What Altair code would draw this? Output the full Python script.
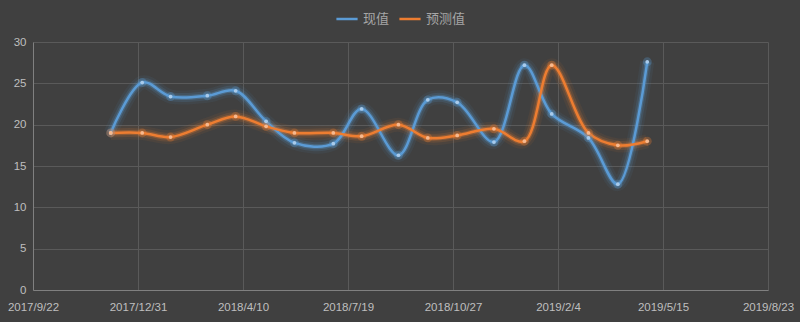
import altair as alt
import pandas as pd

dates = ["2017-12-05", "2018-01-04", "2018-01-31", "2018-03-07", "2018-04-03", "2018-05-02",
         "2018-05-29", "2018-07-05", "2018-08-01", "2018-09-05", "2018-10-03", "2018-10-31",
         "2018-12-05", "2019-01-03", "2019-01-29", "2019-03-05", "2019-04-02", "2019-04-30"]
actual = [19.0, 25.1, 23.4, 23.5, 24.1, 20.4, 17.8, 17.7, 21.9, 16.3, 23.0, 22.7,
          17.9, 27.2, 21.3, 18.4, 12.8, 27.6]
forecast = [19.0, 19.0, 18.5, 20.0, 21.0, 19.8, 19.0, 19.0, 18.6, 20.0, 18.4, 18.7,
            19.5, 18.0, 27.2, 19.0, 17.5, 18.0]
series_names = ["现值", "预测值"]
series_colors = ["#5B9BD5", "#ED7D31"]
point_colors = ["#A9CBEB", "#F6B98F"]
tick_dates = [(2017, 9, 22), (2017, 12, 31), (2018, 4, 10), (2018, 7, 19),
              (2018, 10, 27), (2019, 2, 4), (2019, 5, 15), (2019, 8, 23)]
y_ticks = [0, 5, 10, 15, 20, 25, 30]

rows = []
for d, a, f in zip(dates, actual, forecast):
    rows.append({"date": d, "value": a, "series": series_names[0]})
    rows.append({"date": d, "value": f, "series": series_names[1]})
df = pd.DataFrame(rows)

tick_vals = [alt.DateTime(year=y, month=m, date=d, utc=True) for (y, m, d) in tick_dates]

x_enc = alt.X("date:T",
              scale=alt.Scale(type="utc", domain=[tick_vals[0], tick_vals[-1]], nice=False),
              axis=alt.Axis(values=tick_vals,
                            labelExpr="utcFormat(datum.value, '%Y/%-m/%-d')",
                            title=None, labelColor="#BFBFBF", labelFontSize=11.5,
                            labelFont="Liberation Sans", gridColor="#5A5A5A",
                            domainColor="#808080", ticks=False, labelPadding=11,
                            labelFlush=False, labelOverlap=False))
y_enc = alt.Y("value:Q",
              scale=alt.Scale(domain=[0, 30], nice=False),
              axis=alt.Axis(values=y_ticks, title=None, labelColor="#BFBFBF",
                            labelFontSize=11.5, labelFont="Liberation Sans",
                            gridColor="#5A5A5A", domainColor="#808080", ticks=False,
                            labelPadding=7))
color_enc = alt.Color("series:N",
                      scale=alt.Scale(domain=series_names, range=series_colors),
                      sort=series_names,
                      legend=alt.Legend(title=None, orient="none", direction="horizontal",
                                        legendX=302, legendY=-35,
                                        symbolType="stroke", symbolStrokeWidth=2.5,
                                        symbolSize=450, labelColor="#A6A6A6",
                                        labelFontSize=13, labelFont="Noto Sans CJK SC",
                                        columnPadding=4, labelOffset=4))

def plain_color(rng):
    return alt.Color("series:N", scale=alt.Scale(domain=series_names, range=rng), legend=None)

base = alt.Chart(df)
glow0 = base.mark_line(interpolate="catmull-rom", strokeWidth=14, opacity=0.07).encode(
    x=x_enc, y=y_enc, color=plain_color(series_colors))
glow1 = base.mark_line(interpolate="catmull-rom", strokeWidth=9, opacity=0.14).encode(
    x=x_enc, y=y_enc, color=plain_color(series_colors))
glow2 = base.mark_line(interpolate="catmull-rom", strokeWidth=5, opacity=0.3).encode(
    x=x_enc, y=y_enc, color=plain_color(series_colors))
line = base.mark_line(interpolate="catmull-rom", strokeWidth=2.5).encode(
    x=x_enc, y=y_enc, color=color_enc)
pts_glow = base.mark_circle(size=80, opacity=0.3).encode(
    x=x_enc, y=y_enc, color=plain_color(series_colors))
pts = base.mark_circle(size=14, opacity=1).encode(
    x=x_enc, y=y_enc, color=plain_color(point_colors))

chart = alt.layer(glow0, glow1, glow2, line, pts_glow, pts).resolve_scale(color="independent").properties(
    width=735, height=248,
    autosize=alt.AutoSizeParams(type="none"),
    padding={"left": 33, "top": 42, "right": 32, "bottom": 32},
    background="#404040",
).configure_view(stroke=None)

chart.save("out.html", embed_options={"renderer": "svg", "actions": False})
